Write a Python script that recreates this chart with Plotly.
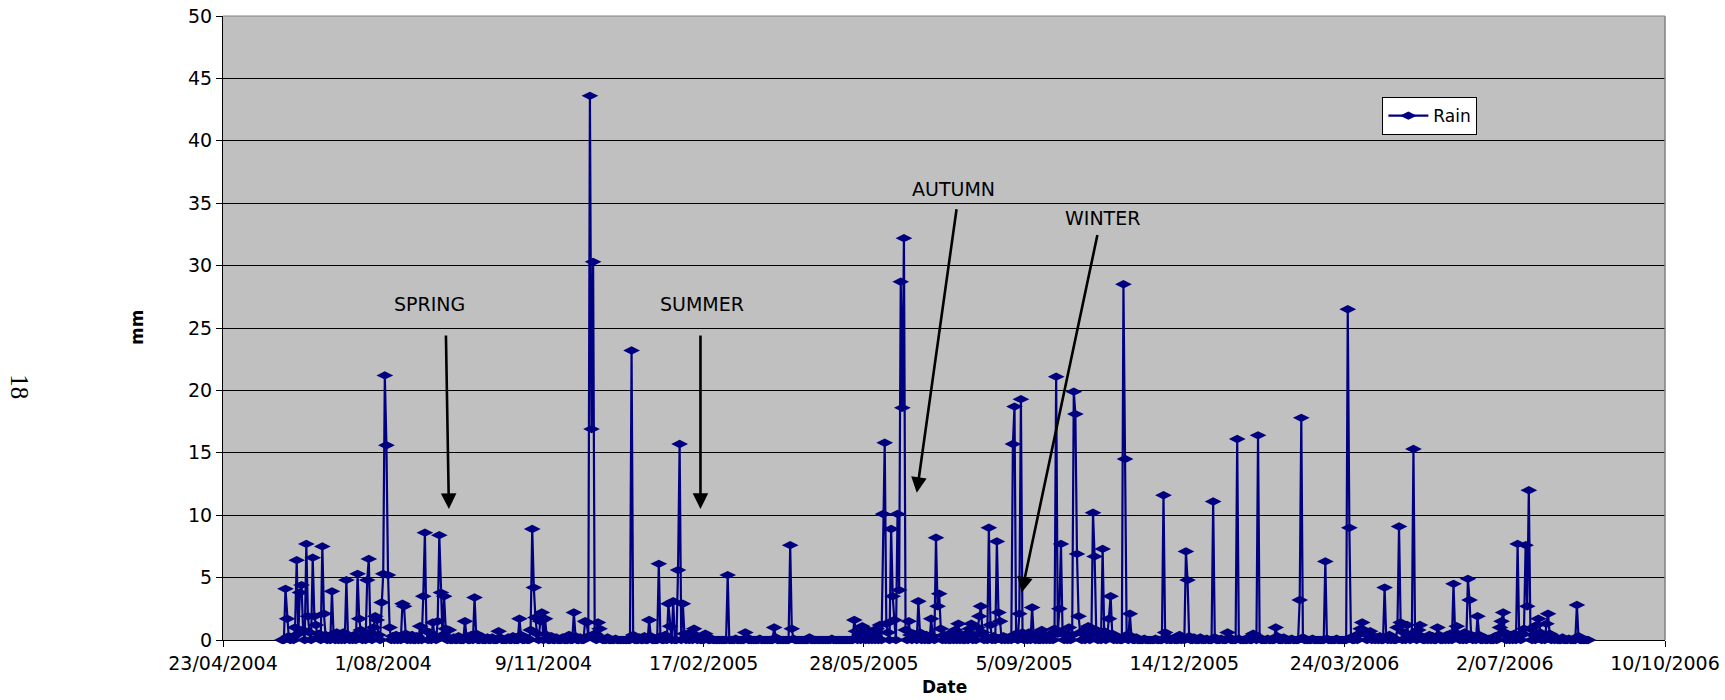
import numpy as np
import pandas as pd
import plotly.graph_objects as go

# Daily rainfall record: day 0 = 30/05/2004, last day = 23/08/2006.
record_start = "2004-05-30"
record_days = 816

# Days with rain (day number in the record) and the amount in mm.
rain_day = [
    2, 3, 4, 6, 8, 9, 10, 11, 12, 13, 15, 16, 17, 19, 20, 21, 22, 23, 25, 26,
    27, 29, 31, 32, 34, 36, 38, 40, 41, 43, 45, 47, 48, 49, 51, 53, 54, 55, 57, 58,
    59, 60, 62, 63, 64, 65, 66, 67, 69, 71, 73, 75, 76, 77, 79, 81, 84, 86, 88, 89,
    90, 92, 94, 95, 97, 98, 99, 100, 101, 102, 104, 107, 110, 114, 115, 118, 120, 121, 124, 128,
    131, 135, 136, 141, 144, 148, 149, 152, 155, 156, 157, 158, 159, 161, 162, 164, 165, 168, 171, 175,
    179, 182, 183, 186, 189, 190, 191, 192, 193, 194, 195, 197, 198, 199, 203, 208, 218, 219, 223, 226,
    229, 230, 235, 236, 239, 241, 242, 244, 247, 248, 250, 251, 253, 255, 257, 258, 260, 264, 265, 268,
    278, 283, 289, 290, 298, 307, 308, 317, 318, 319, 329, 343, 357, 358, 360, 362, 363, 365, 367, 369,
    371, 373, 375, 376, 377, 378, 380, 381, 382, 384, 385, 386, 387, 388, 389, 391, 392, 394, 395, 397,
    398, 400, 402, 405, 406, 408, 409, 410, 411, 413, 415, 418, 420, 422, 424, 427, 429, 430, 432, 434,
    435, 436, 437, 439, 441, 442, 444, 446, 447, 448, 450, 452, 454, 456, 457, 458, 460, 461, 462, 464,
    466, 468, 469, 471, 474, 476, 478, 480, 482, 483, 484, 485, 486, 487, 489, 491, 493, 494, 495, 496,
    497, 498, 500, 502, 503, 505, 506, 507, 508, 510, 512, 513, 515, 516, 517, 518, 520, 522, 525, 526,
    527, 529, 530, 533, 538, 545, 550, 551, 553, 556, 560, 562, 564, 565, 566, 569, 573, 577, 581, 582,
    586, 590, 591, 596, 597, 603, 606, 607, 609, 610, 615, 620, 621, 625, 630, 635, 636, 637, 643, 651,
    652, 658, 665, 666, 667, 670, 672, 673, 674, 675, 676, 678, 679, 681, 683, 685, 688, 689, 691, 693,
    696, 697, 698, 700, 702, 703, 705, 706, 707, 709, 710, 711, 714, 716, 718, 721, 722, 725, 727, 729,
    731, 732, 733, 734, 736, 738, 740, 741, 742, 744, 746, 747, 750, 753, 757, 759, 760, 761, 762, 763,
    765, 767, 769, 771, 772, 774, 775, 776, 777, 778, 779, 781, 783, 784, 785, 787, 789, 790, 791, 793,
    795, 799, 803, 808, 809,
]
rain_mm = [
    4.1, 1.7, 0.3, 0.2, 1.0, 6.4, 0.5, 3.8, 4.4, 0.8, 7.7, 1.9, 0.6, 6.6, 1.9, 1.2, 0.2, 0.5, 7.5, 2.1,
    0.4, 0.3, 3.9, 0.5, 0.6, 0.3, 0.6, 4.8, 0.4, 0.2, 0.4, 5.3, 1.7, 0.8, 0.3, 4.8, 6.5, 0.6, 1.0, 1.9,
    1.6, 0.4, 3.0, 5.3, 21.2, 15.6, 5.2, 1.0, 0.3, 0.4, 0.3, 2.9, 2.7, 0.5, 0.2, 0.4, 0.3, 1.1, 3.5, 8.6,
    0.7, 0.6, 1.4, 0.3, 1.5, 8.4, 3.8, 0.4, 3.5, 0.9, 0.8, 0.2, 0.3, 1.5, 0.3, 0.4, 3.4, 0.5, 0.3, 0.2,
    0.2, 0.7, 0.2, 0.2, 0.3, 1.7, 0.4, 0.2, 0.8, 8.9, 4.2, 1.8, 0.5, 1.5, 2.2, 1.7, 0.4, 0.3, 0.2, 0.2,
    0.4, 2.2, 0.3, 0.2, 1.5, 1.4, 0.3, 43.6, 16.9, 30.3, 0.5, 1.4, 0.9, 0.2, 0.2, 0.1, 23.2, 0.4, 0.2, 0.3,
    1.6, 0.3, 6.1, 0.3, 0.4, 2.9, 1.1, 3.1, 5.6, 15.7, 2.9, 0.5, 0.3, 0.6, 0.9, 0.3, 0.2, 0.5, 0.2, 0.1,
    5.2, 0.1, 0.6, 0.2, 0.1, 1.0, 0.2, 7.6, 0.9, 0.1, 0.2, 0.1, 1.6, 0.7, 0.4, 1.1, 0.3, 0.8, 0.6, 0.3,
    0.9, 1.2, 10.1, 15.8, 1.3, 0.6, 8.9, 3.5, 1.6, 10.1, 4.0, 28.7, 18.6, 32.2, 0.8, 1.5, 0.4, 0.5, 0.3, 3.1,
    0.6, 0.3, 0.4, 1.7, 0.3, 8.2, 2.7, 3.7, 0.9, 0.4, 0.3, 0.6, 0.8, 1.3, 0.4, 0.5, 0.9, 1.3, 0.4, 1.0,
    1.9, 2.7, 0.6, 0.3, 9.0, 1.2, 0.3, 7.9, 2.2, 1.5, 0.3, 0.2, 0.2, 15.7, 18.7, 0.5, 2.1, 19.3, 0.6, 0.3,
    0.6, 2.6, 0.4, 0.5, 0.8, 0.4, 0.3, 0.5, 0.9, 21.1, 0.5, 2.5, 7.7, 0.6, 0.4, 1.0, 0.4, 19.9, 18.1, 6.9,
    1.9, 0.6, 0.5, 0.9, 1.1, 0.4, 10.2, 6.7, 0.8, 0.6, 7.3, 0.7, 0.4, 1.7, 3.5, 0.5, 0.3, 0.2, 28.5, 14.5,
    0.4, 2.1, 0.3, 0.2, 0.1, 0.1, 11.6, 0.6, 0.2, 0.1, 0.4, 0.2, 7.1, 4.8, 0.3, 0.2, 0.2, 0.1, 11.1, 0.2,
    0.1, 0.6, 0.2, 16.1, 0.1, 0.2, 0.5, 0.2, 16.4, 0.2, 0.1, 1.0, 0.3, 0.2, 0.1, 3.2, 17.8, 0.2, 0.1, 6.3,
    0.1, 0.1, 26.5, 9.0, 0.2, 0.3, 0.5, 0.9, 1.4, 0.8, 0.5, 0.4, 0.7, 0.3, 0.2, 0.3, 4.2, 0.3, 0.4, 0.2,
    1.0, 9.1, 1.4, 0.6, 1.2, 0.3, 0.5, 15.3, 0.4, 0.8, 1.2, 0.3, 0.2, 0.4, 0.3, 1.0, 0.4, 0.2, 0.4, 0.5,
    4.5, 0.6, 1.1, 0.3, 0.2, 0.6, 4.9, 3.2, 0.4, 0.3, 1.9, 0.4, 0.2, 0.1, 0.3, 0.4, 1.0, 1.5, 2.2, 0.6,
    0.3, 0.4, 0.5, 7.7, 0.3, 0.5, 0.9, 7.6, 2.7, 12.0, 0.9, 0.4, 1.2, 1.7, 0.6, 0.3, 1.3, 2.1, 0.5, 0.3,
    0.2, 0.2, 0.1, 2.8, 0.3,
]

tick_dates = [
    "2004-04-23", "2004-08-01", "2004-11-09", "2005-02-17", "2005-05-28",
    "2005-09-05", "2005-12-14", "2006-03-24", "2006-07-02", "2006-10-10",
]
tick_labels = [
    "23/04/2004", "1/08/2004", "9/11/2004", "17/02/2005", "28/05/2005",
    "5/09/2005", "14/12/2005", "24/03/2006", "2/07/2006", "10/10/2006",
]
y_ticks = [0, 5, 10, 15, 20, 25, 30, 35, 40, 45, 50]

# Full daily series: dry days are 0 mm.
dates = pd.date_range(record_start, periods=record_days, freq="D")
rain = np.zeros(record_days)
rain[rain_day] = rain_mm

NAVY = "#000080"
FONT = "DejaVu Sans, Liberation Sans, Arial, sans-serif"

fig = go.Figure()
fig.add_trace(go.Scatter(
    x=dates, y=rain, name="Rain", mode="lines+markers",
    line=dict(color=NAVY, width=2.2),
    marker=dict(symbol="diamond-wide", size=12, color=NAVY,
                line=dict(width=0)),
    cliponaxis=False,
))

# Season labels with their pointer arrows
seasons = [
    # label, label x, label y, arrow tip x, tip y, tail dx, tail dy (px)
    ("SPRING", "2004-08-30", 26.9, "2004-09-11", 10.5, -3, -175),
    ("SUMMER", "2005-02-16", 26.9, "2005-02-15", 10.5, 0, -175),
    ("AUTUMN", "2005-07-23", 36.1, "2005-06-30", 11.8, 40, -285),
    ("WINTER", "2005-10-24", 33.8, "2005-09-03 12:00", 3.8, 76, -359),
]
annotations = []
for label, lx, ly, tx, ty, dx, dy in seasons:
    annotations.append(dict(
        x=lx, y=ly, xref="x", yref="y", text=label, showarrow=False,
        xanchor="center", yanchor="middle",
        font=dict(family=FONT, size=19, color="black"),
    ))
    annotations.append(dict(
        x=tx, y=ty, xref="x", yref="y", text="", showarrow=True,
        ax=dx, ay=dy, axref="pixel", ayref="pixel",
        arrowhead=2, arrowsize=1.2, arrowwidth=2.6, arrowcolor="black",
        standoff=0, startstandoff=0,
    ))

# Axis titles and page number
annotations += [
    dict(x=0.5, y=-0.076, xref="paper", yref="paper", text="<b>Date</b>",
         xanchor="center", yanchor="middle", showarrow=False,
         font=dict(family=FONT, size=17, color="black")),
    dict(x=-0.0596, y=0.5, xref="paper", yref="paper", text="<b>mm</b>",
         xanchor="center", yanchor="middle", textangle=-90, showarrow=False,
         font=dict(family=FONT, size=17, color="black")),
    dict(x=-0.1408, y=0.405, xref="paper", yref="paper", text="18",
         xanchor="center", yanchor="middle", textangle=90, showarrow=False,
         font=dict(family="Liberation Serif, Times New Roman, serif",
                   size=25, color="black")),
]

fig.update_layout(
    width=1725, height=700,
    margin=dict(l=223, r=60, t=16, b=60, autoexpand=False),
    paper_bgcolor="white",
    plot_bgcolor="#C0C0C0",
    font=dict(family=FONT, size=19, color="black"),
    showlegend=True,
    legend=dict(
        x=0.804, y=0.87, xanchor="left", yanchor="top",
        bgcolor="white", bordercolor="black", borderwidth=1,
        itemwidth=40,
        font=dict(family=FONT, size=17, color="black"),
    ),
    annotations=annotations,
    shapes=[
        dict(type="line", xref="paper", yref="paper", x0=0, x1=1, y0=1, y1=1,
             line=dict(color="#808080", width=1), layer="above"),
        dict(type="line", xref="paper", yref="paper", x0=1, x1=1, y0=0, y1=1,
             line=dict(color="#808080", width=1.5), layer="above"),
    ],
)

fig.update_xaxes(
    type="date", range=[tick_dates[0], tick_dates[-1]],
    tickmode="array", tickvals=tick_dates, ticktext=tick_labels,
    ticks="outside", ticklen=6, tickcolor="black", tickwidth=1,
    showline=True, linecolor="black", linewidth=1,
    showgrid=False, zeroline=False, layer="below traces",
    automargin=False,
    tickfont=dict(family=FONT, size=19, color="black"),
)
fig.update_yaxes(
    range=[0, 50], tickmode="array", tickvals=y_ticks,
    ticks="outside", ticklen=6, tickcolor="black", tickwidth=1,
    showline=True, linecolor="black", linewidth=1,
    showgrid=True, gridcolor="black", gridwidth=1,
    zeroline=False, layer="below traces",
    automargin=False,
    tickfont=dict(family=FONT, size=19, color="black"),
)

fig.write_html("out.html")
